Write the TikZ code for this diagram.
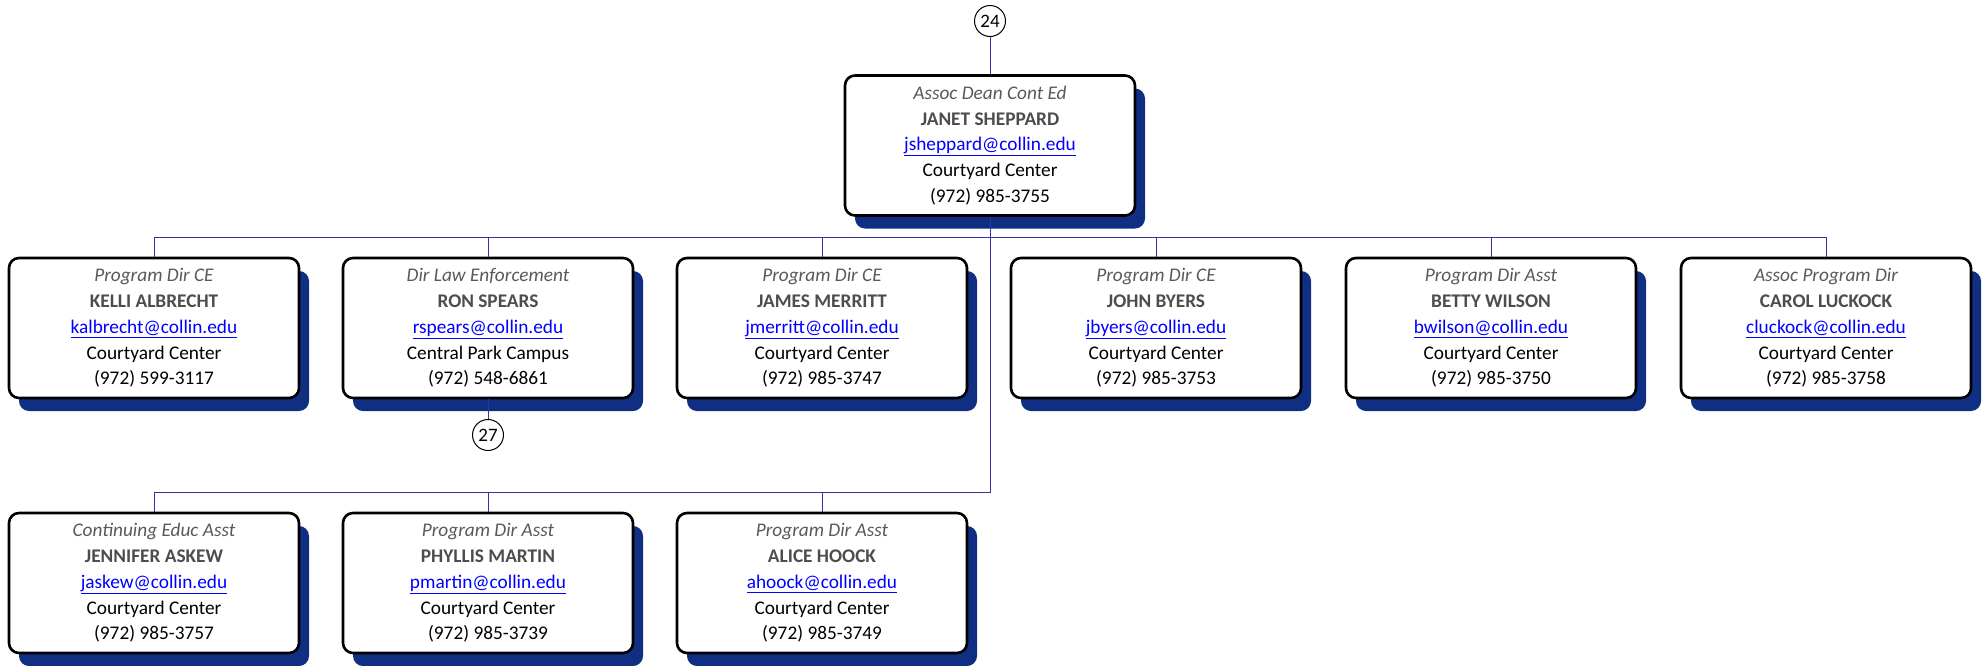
\documentclass[tikz,border=0pt]{standalone}
\usepackage{fontspec}
\setmainfont{Carlito}
\usetikzlibrary{shadows}
\definecolor{shadowc}{RGB}{16,46,130}
\definecolor{linec}{RGB}{50,50,165}
\definecolor{titlec}{RGB}{89,89,89}
\definecolor{namec}{RGB}{77,77,77}
\newcommand{\pers}[5]{{\color{titlec}\itshape #1}\\{\color{namec}\bfseries #2}\\{\color{blue}\underline{#3}}\\#4\\#5}
\tikzset{
 person/.style={draw=black, line width=2.6pt, rounded corners=10pt, fill=white,
   minimum width=290pt, minimum height=140pt, align=center, inner sep=0pt,
   font=\fontsize{19.3}{25.8}\selectfont,
   drop shadow={shadow xshift=10pt, shadow yshift=-13pt, fill=shadowc, opacity=1}},
 conn/.style={draw=linec, line width=1pt},
 refc/.style={circle, draw=black, line width=1pt, fill=white, minimum size=31pt,
   inner sep=0pt, font=\fontsize{19}{20}\selectfont}
}
\begin{document}
\begin{tikzpicture}[x=1pt,y=-1pt]
\useasboundingbox (0,0) rectangle (1988,665);
\node[person] (top) at (990,145.5) {\pers{Assoc Dean Cont Ed}{JANET SHEPPARD}{jsheppard@collin.edu}{Courtyard Center}{(972) 985-3755}};
\node[refc] (r24) at (990,21) {24};
\node[person] (a1) at (154,328) {\pers{Program Dir CE}{KELLI ALBRECHT}{kalbrecht@collin.edu}{Courtyard Center}{(972) 599-3117}};
\node[person] (a2) at (488,328) {\pers{Dir Law Enforcement}{RON SPEARS}{rspears@collin.edu}{Central Park Campus}{(972) 548-6861}};
\node[person] (a3) at (822,328) {\pers{Program Dir CE}{JAMES MERRITT}{jmerritt@collin.edu}{Courtyard Center}{(972) 985-3747}};
\node[person] (a4) at (1156,328) {\pers{Program Dir CE}{JOHN BYERS}{jbyers@collin.edu}{Courtyard Center}{(972) 985-3753}};
\node[person] (a5) at (1491,328) {\pers{Program Dir Asst}{BETTY WILSON}{bwilson@collin.edu}{Courtyard Center}{(972) 985-3750}};
\node[person] (a6) at (1826,328) {\pers{Assoc Program Dir}{CAROL LUCKOCK}{cluckock@collin.edu}{Courtyard Center}{(972) 985-3758}};
\node[person] (b1) at (154,583) {\pers{Continuing Educ Asst}{JENNIFER ASKEW}{jaskew@collin.edu}{Courtyard Center}{(972) 985-3757}};
\node[person] (b2) at (488,583) {\pers{Program Dir Asst}{PHYLLIS MARTIN}{pmartin@collin.edu}{Courtyard Center}{(972) 985-3739}};
\node[person] (b3) at (822,583) {\pers{Program Dir Asst}{ALICE HOOCK}{ahoock@collin.edu}{Courtyard Center}{(972) 985-3749}};
\node[refc] (r27) at (488,435) {27};
\coordinate (bus1) at (990,237);
\coordinate (bus2) at (990,492);
\draw[conn] (r24) -- (top);
\foreach \c in {a1,a2,a3,a4,a5,a6}
  \draw[conn] (top.south) -- (bus1) -| (\c.north);
\foreach \c in {b1,b2,b3}
  \draw[conn] (top.south) -- (bus2) -| (\c.north);
\draw[conn] (a2.south) -- (r27);
\end{tikzpicture}
\end{document}
